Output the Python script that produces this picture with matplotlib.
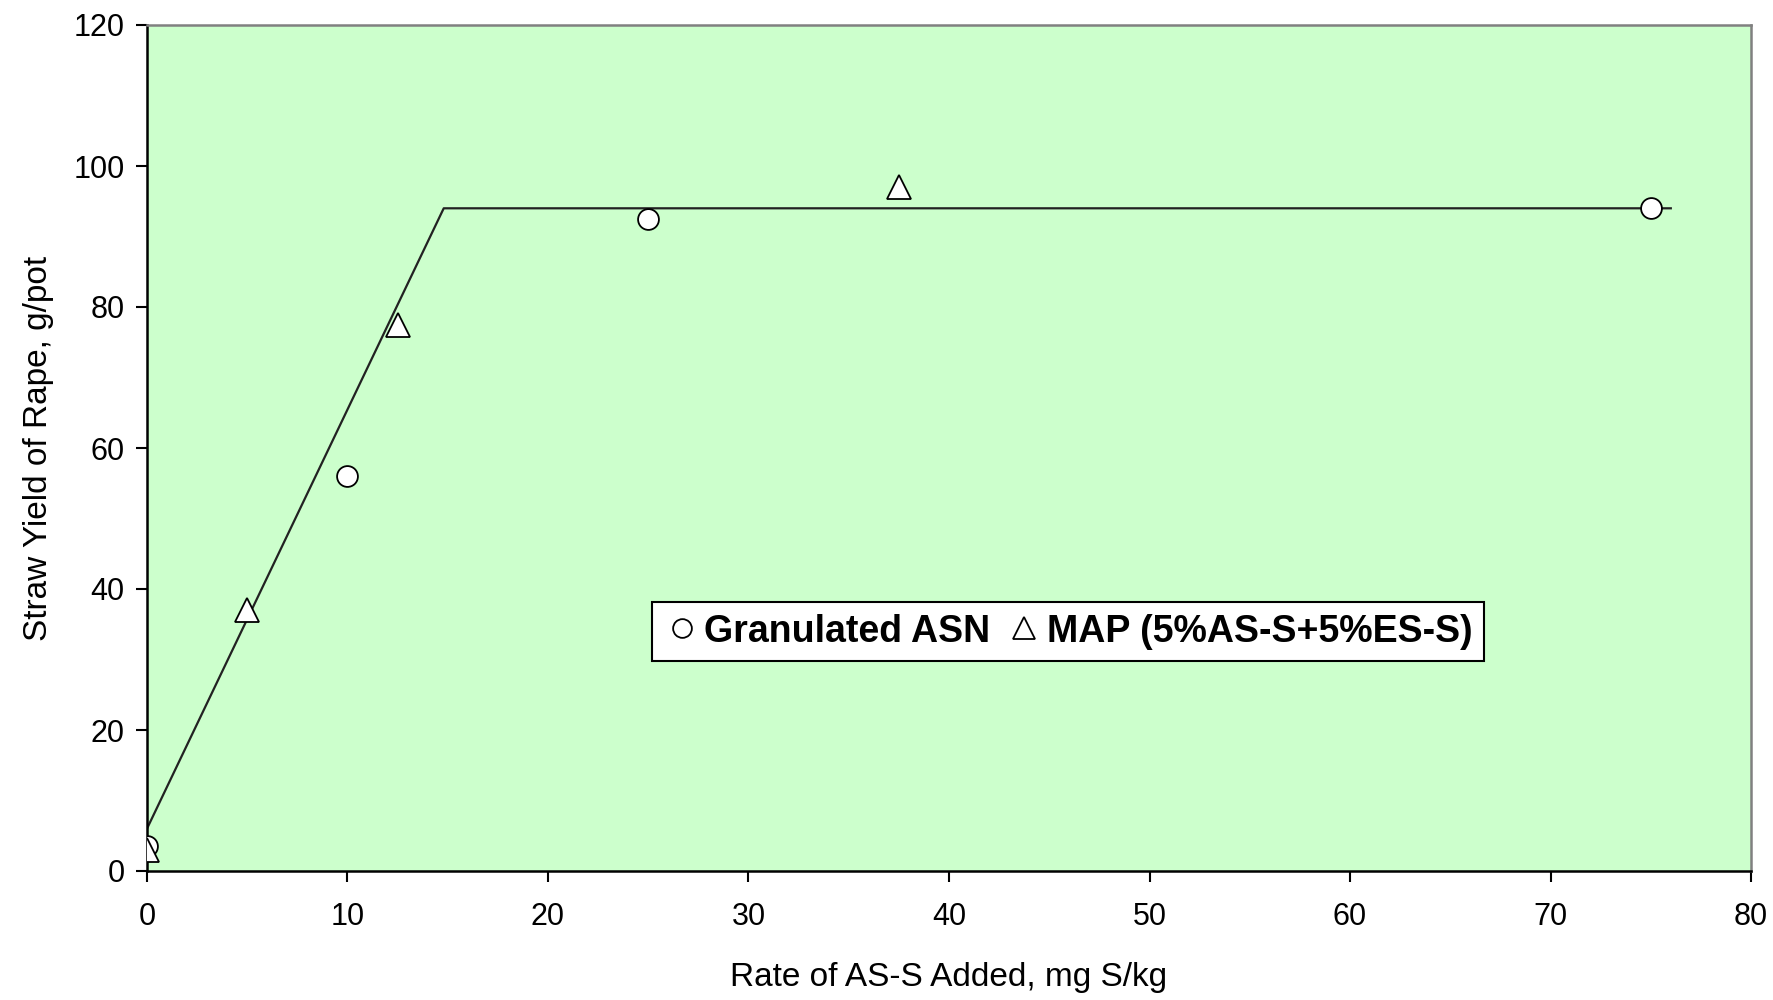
import matplotlib
matplotlib.use("Agg")
import matplotlib.pyplot as plt

# observed points
asn_x = [0, 10, 25, 75]
asn_y = [3.5, 56, 92.5, 94]
map_x = [0, 5, 12.5, 37.5]
map_y = [3.0, 37, 77.5, 97]

# linear-plateau fit
fit_x = [0, 14.8, 76]
fit_y = [6, 94, 94]

x_ticks = [0, 10, 20, 30, 40, 50, 60, 70, 80]
y_ticks = [0, 20, 40, 60, 80, 100, 120]

plt.rcParams["font.family"] = ["Liberation Sans", "DejaVu Sans"]

fig = plt.figure(figsize=(17.73, 10), dpi=100)
ax = fig.add_axes([0.0829, 0.129, 0.9047, 0.846])
ax.set_facecolor("#ccffcc")

ax.plot(fit_x, fit_y, color="#222222", lw=1.6, zorder=2)
ax.plot(asn_x, asn_y, linestyle="none", marker="o", ms=15, mfc="white",
        mec="black", mew=1.3, label="Granulated ASN", zorder=3)
ax.plot(map_x, map_y, linestyle="none", marker="^", ms=17, mfc="white",
        mec="black", mew=1.3, label="MAP (5%AS-S+5%ES-S)", zorder=4)

ax.set_xlim(0, 80)
ax.set_ylim(0, 120)
ax.set_xticks(x_ticks)
ax.set_yticks(y_ticks)
ax.tick_params(direction="out", length=8, width=1.5, labelsize=22)
ax.tick_params(axis="x", pad=14)
ax.tick_params(axis="y", pad=8)

for side in ["left", "bottom"]:
    ax.spines[side].set_color("black")
    ax.spines[side].set_linewidth(1.8)
for side in ["top", "right"]:
    ax.spines[side].set_color("#808080")
    ax.spines[side].set_linewidth(1.8)

ax.set_xlabel("Rate of AS-S Added, mg S/kg", fontsize=24, labelpad=22)
ax.set_ylabel("Straw Yield of Rape, g/pot", fontsize=24, labelpad=14)

leg = ax.legend(loc="center", bbox_to_anchor=(0.574, 0.283), ncol=2,
                frameon=True, fancybox=False, edgecolor="black",
                framealpha=1, facecolor="white",
                prop={"weight": "bold", "size": 27}, handletextpad=0.1,
                columnspacing=0.4, borderpad=0.3, handlelength=1.0,
                markerscale=0.9)
leg.get_frame().set_linewidth(1.5)

fig.savefig("out.png", dpi=100, facecolor="white")
